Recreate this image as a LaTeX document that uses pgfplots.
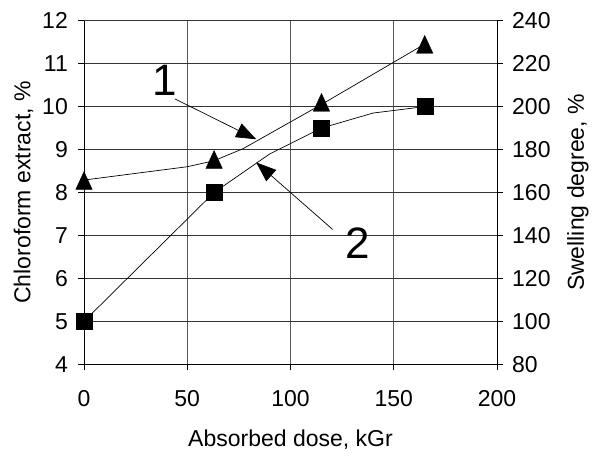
\documentclass[border=0pt]{standalone}
\usepackage{fontspec}
\setmainfont{Liberation Sans}
\usepackage{pgfplots}
\pgfplotsset{compat=1.18}
\usetikzlibrary{arrows.meta}

% curve 1: chloroform extract (left axis)
\pgfplotstableread{
x y
0 8.21
63 8.7
115 10.03
165 11.38
}\extract
% trend line of curve 1
\pgfplotstableread{
x y
0 8.29
50 8.6
63 8.74
77 9.02
115 10.05
163 11.4
}\extractline
% curve 2: swelling degree (right axis)
\pgfplotstableread{
x y
0 100
63 160
115 190
165 200
}\swell
\pgfplotstableread{
x y
0 100
63 160
90 178
115 190
140 197
165 200
}\swellline

\pgfplotsset{
  base/.style={
    at={(84pt,91.7pt)}, anchor=south west,
    scale only axis, width=413pt, height=343.6pt,
    xmin=0, xmax=200,
    axis line style={-, line width=0.8pt},
    tick style={line width=0.8pt, black},
    tick align=outside, major tick length=6pt,
    /pgf/number format/assume math mode=true,
    ticklabel style={font=\fontsize{23}{27}\selectfont},
    label style={font=\fontsize{23}{27}\selectfont},
  }
}

\begin{document}
\fontsize{23}{27}\selectfont
\begin{tikzpicture}
\path[use as bounding box] (0,0) rectangle (598pt,456pt);
\begin{axis}[base,
  ymin=4, ymax=12,
  axis x line*=bottom, axis y line*=left,
  xtick={0,50,...,200},
  ytick={4,...,12},
  xmajorgrids, ymajorgrids,
  x grid style={line width=0.8pt, black!65},
  y grid style={line width=0.8pt, black!80},
  xticklabel style={anchor=center, inner sep=0pt, yshift=-28pt},
  yticklabel style={anchor=east, inner sep=0pt, xshift=-10pt},
  xlabel={Absorbed dose, kGr},
  xlabel style={at={(axis description cs:0.5,0)}, anchor=center, yshift=-75pt},
  ylabel={Chloroform extract, \%},
  ylabel style={at={(axis description cs:0,0.5)}, anchor=center, yshift=60.5pt},
  clip=false]
\addplot[black, line width=0.7pt] table {\extractline};
\addplot[only marks, mark=triangle*, mark size=9.5pt, mark options={yscale=1.25}, black] table {\extract};
\draw[line width=0.7pt, -{Triangle[length=20pt,width=15pt]}] (axis cs:44,10.18) -- (axis cs:83.4,9.24);
\draw[line width=0.7pt, -{Triangle[length=20pt,width=15pt]}] (axis cs:120.4,7.14) -- (axis cs:83.4,8.7);
\node at (axis cs:39.1,10.62) {\fontsize{44}{50}\selectfont 1};
\node at (axis cs:132.5,6.82) {\fontsize{44}{50}\selectfont 2};
\end{axis}
\begin{axis}[base,
  ymin=80, ymax=240,
  axis y line*=right, axis x line=none,
  ytick={80,100,...,240},
  yticklabel style={anchor=west, inner sep=0pt, xshift=9pt},
  ylabel={Swelling degree, \%},
  ylabel style={at={(axis description cs:1,0.5)}, anchor=center, yshift=-81pt},
  clip=false]
\addplot[black, line width=0.7pt] table {\swellline};
\addplot[only marks, mark=square*, mark size=8pt, black] table {\swell};
\end{axis}
\end{tikzpicture}
\end{document}
